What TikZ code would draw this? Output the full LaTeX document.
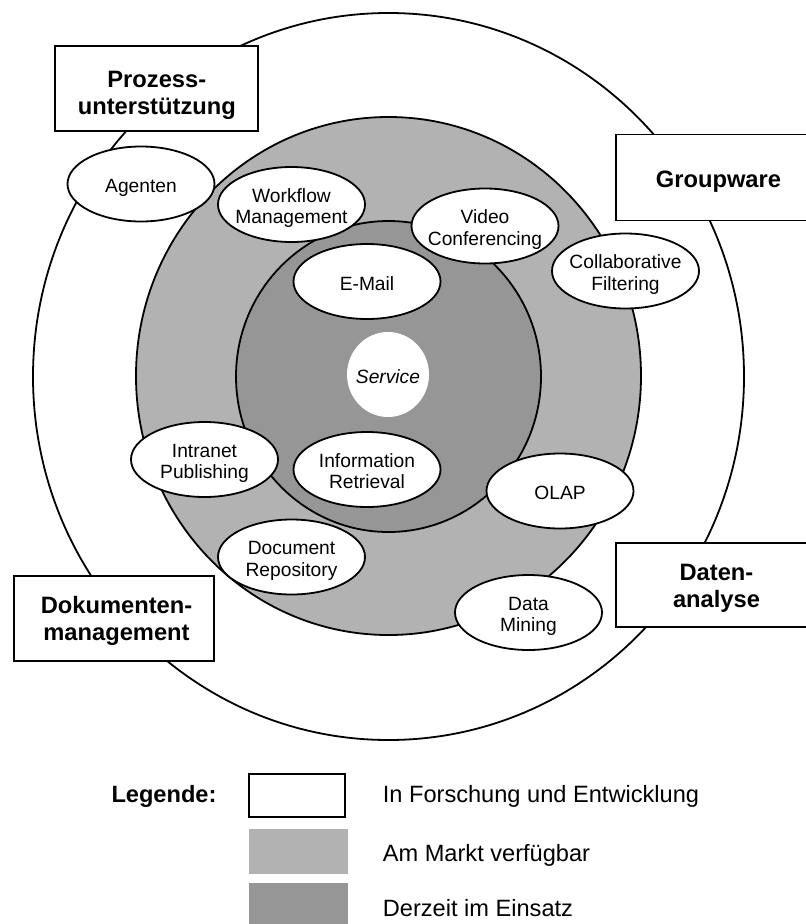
\documentclass[tikz,border=0pt]{standalone}
\usepackage{fontspec}
\setmainfont{Liberation Sans}
\usetikzlibrary{shapes.geometric}
\definecolor{lightg}{HTML}{B2B2B2}
\definecolor{darkg}{HTML}{969696}
\newcommand\etab[1]{\begin{tabular}{@{}c@{}}#1\end{tabular}}
\begin{document}
\begin{tikzpicture}[x=1pt,y=-1pt,line width=1.8pt,
  ell/.style={ellipse,draw,fill=white,minimum width=147pt,minimum height=75pt,inner sep=0pt},
  etxt/.style={font=\fontsize{19.2}{21.7}\selectfont,inner sep=0pt,yshift=-4.3pt},
  catbox/.style={rectangle,draw,fill=white,inner sep=0pt},
  ctxt/.style={font=\fontsize{23.7}{27}\selectfont\bfseries,inner sep=0pt},
  legtxt/.style={font=\fontsize{23.6}{27}\selectfont,anchor=base west,inner sep=0pt}]
\useasboundingbox (0,0) rectangle (806,924);
\clip (0,0) rectangle (806,924);
% rings
\filldraw[fill=white] (388.5,376.5) ellipse [x radius=355.5pt, y radius=363.5pt];
\filldraw[fill=lightg] (388.5,376) ellipse [x radius=252.5pt, y radius=259pt];
\filldraw[fill=darkg] (388.5,376.5) ellipse [x radius=152.5pt, y radius=155.5pt];
\node[ellipse,fill=white,minimum width=82pt,minimum height=85pt,inner sep=0pt,
  label={[etxt,yshift=-0.2pt]center:\itshape\etab{Service}}] (service) at (388,374.5) {};
% ellipses
\node[ell,label={[etxt]center:\etab{Agenten}}] (agenten) at (141,184) {};
\node[ell,label={[etxt]center:\etab{Workflow\\Management}}] (workflow) at (291.5,204.5) {};
\node[ell,label={[etxt]center:\etab{E-Mail}}] (email) at (367,281.5) {};
\node[ell,label={[etxt]center:\etab{Video\\Conferencing}}] (video) at (485,226) {};
\node[ell,label={[etxt]center:\etab{Collaborative\\Filtering}}] (collab) at (625.5,271) {};
\node[ell,label={[etxt]center:\etab{Intranet\\Publishing}}] (intranet) at (204.5,459.5) {};
\node[ell,label={[etxt]center:\etab{Information\\Retrieval}}] (inforet) at (367,469.5) {};
\node[ell,label={[etxt]center:\etab{Document\\Repository}}] (docrepo) at (291.5,557) {};
\node[ell,label={[etxt]center:\etab{OLAP}}] (olap) at (560,491) {};
\node[ell,label={[etxt]center:\etab{Data\\Mining}}] (datamining) at (528.5,612.5) {};
% category boxes
\node[catbox,minimum width=203pt,minimum height=85pt] (prozess) at (156.5,88.5) {};
\node[ctxt] (prozesst) at (156.8,95.4) {\etab{Prozess-\\unterstützung}};
\node[catbox,minimum width=203pt,minimum height=86pt] (groupware) at (717.5,177.5) {};
\node[ctxt] (groupwaret) at (718.5,181.9) {\etab{Groupware}};
\node[catbox,minimum width=200pt,minimum height=85pt] (dokument) at (114,618.5) {};
\node[ctxt] (dokumentt) at (116.5,621.4) {\etab{Dokumenten-\\management}};
\node[catbox,minimum width=203pt,minimum height=84pt] (daten) at (717.5,585) {};
\node[ctxt] (datent) at (716.5,588.1) {\etab{Daten-\\analyse}};
% legend
\node[font=\fontsize{23.6}{27}\selectfont\bfseries,anchor=base east,inner sep=0pt] (legende) at (217.3,802.3) {Legende:};
\draw[fill=white] (249,774) rectangle (345,817);
\fill[lightg] (249,829) rectangle (348,874);
\fill[darkg] (249,883) rectangle (348,928);
\node[legtxt] (leg1) at (382,802) {In Forschung und Entwicklung};
\node[legtxt] (leg2) at (382,861) {Am Markt verfügbar};
\node[legtxt] (leg3) at (382,916) {Derzeit im Einsatz};
\end{tikzpicture}
\end{document}
